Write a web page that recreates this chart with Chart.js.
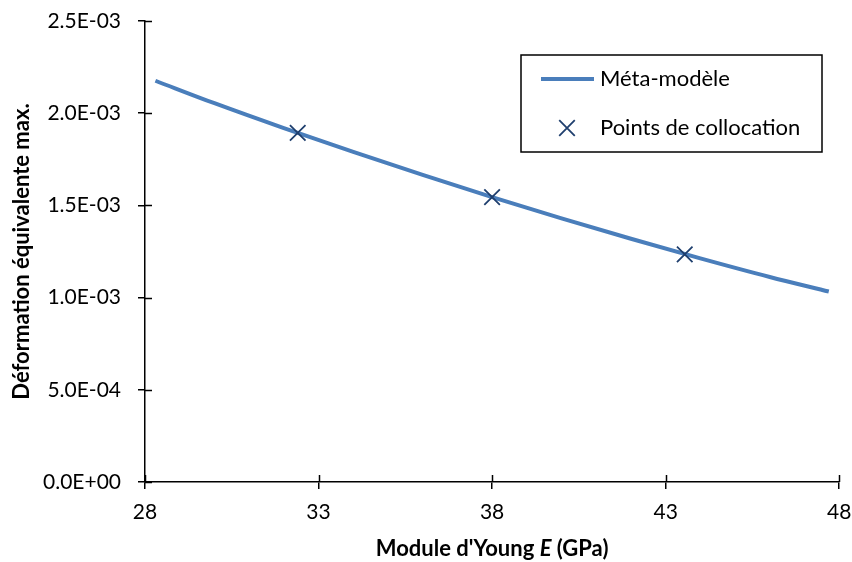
<!DOCTYPE html>
<html>
<head>
<meta charset="utf-8">
<script src="https://cdn.jsdelivr.net/npm/chart.js@4.4.1/dist/chart.umd.min.js"></script>
<style>
  html, body { margin: 0; padding: 0; background: #fff; }
  canvas { display: block; }
</style>
</head>
<body>
<canvas id="chart" width="852" height="562"></canvas>
<script>
// ===================== Data =====================
// Méta-modèle curve
const modelE = [28.3, 30, 32, 34, 36, 38, 40, 42, 44, 46, 47.7];
const modelStrain = [2.176e-3, 2.054e-3, 1.919e-3, 1.790e-3, 1.665e-3, 1.545e-3, 1.430e-3, 1.319e-3, 1.213e-3, 1.112e-3, 1.033e-3];

// Points de collocation
const collocE = [32.4, 38, 43.55];
const collocStrain = [1.893e-3, 1.545e-3, 1.234e-3];

const xTicks = [28, 33, 38, 43, 48];
const yTicks = [0, 5e-4, 1e-3, 1.5e-3, 2e-3, 2.5e-3];

const seriesNames = ['Méta-modèle', 'Points de collocation'];
const xTitle = ['Module d\'Young ', 'E', ' (GPa)'];
const yTitle = 'Déformation équivalente max.';

const FONT = 'Lato, "Open Sans", sans-serif';
const lineColor = '#4a7ebb';
const markColor = '#1f3f6e';

// 2.5E-03 style labels
function sci(v) {
    if (Math.abs(v) < 1e-12) return '0.0E+00';
    const e = Math.floor(Math.log10(Math.abs(v)) + 1e-9);
    const m = v / Math.pow(10, e);
    return m.toFixed(1) + 'E' + (e < 0 ? '-' : '+') + String(Math.abs(e)).padStart(2, '0');
}

// ===================== Extra drawing =====================
// inner half of the crossing ticks, the boxed legend and the x title
const decor = {
    id: 'decor',
    afterDraw(chart) {
        const { ctx, chartArea: a, scales: { x, y } } = chart;
        ctx.save();
        ctx.strokeStyle = '#000';
        ctx.lineWidth = 1.5;
        ctx.beginPath();
        x.ticks.forEach((t, i) => {
            const px = Math.round(x.getPixelForTick(i)) + 0.5;
            ctx.moveTo(px, a.bottom);
            ctx.lineTo(px, a.bottom - 7);
        });
        y.ticks.forEach((t, i) => {
            const py = Math.round(y.getPixelForTick(i)) + 0.5;
            ctx.moveTo(a.left, py);
            ctx.lineTo(a.left + 7, py);
        });
        ctx.stroke();

        // legend
        const lx = 521, ly = 55, lw = 301, lh = 97;
        ctx.lineWidth = 1.5;
        ctx.strokeRect(lx, ly, lw, lh);
        const ds = chart.data.datasets;
        ctx.strokeStyle = ds[0].borderColor;
        ctx.lineWidth = ds[0].borderWidth;
        ctx.beginPath();
        ctx.moveTo(lx + 20, ly + 24);
        ctx.lineTo(lx + 73, ly + 24);
        ctx.stroke();
        ctx.strokeStyle = ds[1].pointBorderColor;
        ctx.lineWidth = ds[1].pointBorderWidth;
        Chart.helpers.drawPoint(ctx, {
            pointStyle: 'crossRot',
            radius: ds[1].pointRadius,
            borderWidth: ds[1].pointBorderWidth
        }, lx + 46, ly + 73);
        ctx.fillStyle = '#000';
        ctx.font = '22px ' + FONT;
        ctx.textBaseline = 'middle';
        ctx.textAlign = 'left';
        ctx.fillText(ds[0].label, lx + 79, ly + 24);
        ctx.fillText(ds[1].label, lx + 79, ly + 73);

        // x axis title with italic E
        const fonts = ['bold 22px ' + FONT, 'italic bold 22px ' + FONT, 'bold 22px ' + FONT];
        let total = 0;
        const widths = xTitle.map((s, i) => { ctx.font = fonts[i]; const w = ctx.measureText(s).width; total += w; return w; });
        let cx = (a.left + a.right) / 2 - total / 2;
        xTitle.forEach((s, i) => {
            ctx.font = fonts[i];
            ctx.fillText(s, cx, 549);
            cx += widths[i];
        });
        ctx.restore();
    }
};

// ===================== Chart =====================
const ctx = document.getElementById('chart').getContext('2d');
new Chart(ctx, {
    type: 'scatter',
    data: {
        datasets: [{
            label: seriesNames[0],
            data: modelE.map((e, i) => ({ x: e, y: modelStrain[i] })),
            showLine: true,
            borderColor: lineColor,
            borderWidth: 4,
            pointRadius: 0,
            cubicInterpolationMode: 'monotone',
            order: 2
        }, {
            label: seriesNames[1],
            data: collocE.map((e, i) => ({ x: e, y: collocStrain[i] })),
            showLine: false,
            pointStyle: 'crossRot',
            pointRadius: 11,
            pointBorderWidth: 1.8,
            pointBorderColor: markColor,
            pointBackgroundColor: markColor,
            order: 1
        }]
    },
    options: {
        responsive: false,
        animation: false,
        layout: { padding: { top: 21, right: 12, left: 0, bottom: 0 } },
        plugins: {
            legend: { display: false },
            tooltip: { enabled: false }
        },
        scales: {
            x: {
                type: 'linear',
                min: 28,
                max: 48,
                afterBuildTicks: s => { s.ticks = xTicks.map(v => ({ value: v })); },
                afterFit: s => { s.height = 80; },
                afterUpdate: s => { s.paddingLeft = 0; s.paddingRight = 0; },
                border: { color: '#000', width: 1.5 },
                grid: { drawOnChartArea: false, drawTicks: true, tickLength: 7, color: '#000', lineWidth: 1.5 },
                ticks: { color: '#000', font: { family: FONT, size: 21 }, padding: 11, maxRotation: 0 }
            },
            y: {
                type: 'linear',
                min: 0,
                max: 2.5e-3,
                afterBuildTicks: s => { s.ticks = yTicks.map(v => ({ value: v })); },
                afterFit: s => { s.width = 145; },
                afterUpdate: s => { s.paddingTop = 0; s.paddingBottom = 0; },
                border: { color: '#000', width: 1.5 },
                grid: { drawOnChartArea: false, drawTicks: true, tickLength: 7, color: '#000', lineWidth: 1.5 },
                ticks: { color: '#000', font: { family: FONT, size: 21 }, padding: 17, callback: v => sci(v) },
                title: {
                    display: true,
                    text: yTitle,
                    color: '#000',
                    font: { family: FONT, size: 22, weight: 'bold' },
                    padding: { top: 9, bottom: 0 }
                }
            }
        }
    },
    plugins: [decor]
});
</script>
</body>
</html>
